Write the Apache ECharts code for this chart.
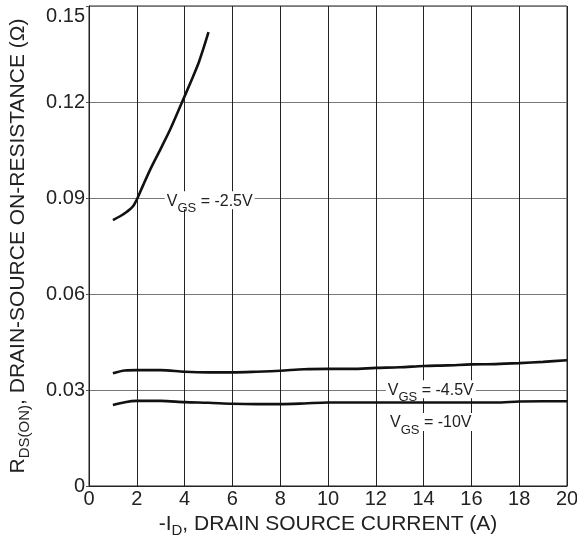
<!DOCTYPE html>
<html><head><meta charset="utf-8">
<script src="https://cdn.jsdelivr.net/npm/echarts@6/dist/echarts.min.js"></script>
<style>html,body{margin:0;padding:0;background:#fff}#c{width:577px;height:537px}</style>
</head><body><div id="c"></div>
<script>
// Data
const vgs25 = [[1.0,0.0831],[1.3,0.0843],[1.6,0.0858],[1.85,0.0875],[2.05,0.0903],[2.27,0.0941],[2.6,0.0995],[3.04,0.1060],[3.4,0.1115],[3.81,0.1185],[4.23,0.1258],[4.6,0.1325],[5.0,0.1418]];
const vgs45 = [[1,0.0352],[1.5,0.0361],[2,0.0362],[3,0.0362],[4,0.0357],[5,0.0355],[6,0.0355],[7,0.0357],[8,0.0360],[9,0.0365],[10,0.0366],[11,0.0366],[12,0.0369],[13,0.0371],[14,0.0375],[15,0.0377],[16,0.0380],[17,0.0381],[18,0.0384],[19,0.0388],[20,0.0393]];
const vgs10 = [[1,0.0253],[1.5,0.0262],[2,0.0266],[3,0.0266],[4,0.0262],[5,0.0260],[6,0.0257],[7,0.0256],[8,0.0256],[9,0.0258],[10,0.0261],[11,0.0261],[12,0.0261],[13,0.0261],[14,0.0261],[15,0.0261],[16,0.0261],[17,0.0261],[18,0.0264],[19,0.0265],[20,0.0265]];
const curveLabels = [
  {text:'-2.5V', coord:[5.05,0.0893]},
  {text:'-4.5V', coord:[14.3,0.0302]},
  {text:'-10V',  coord:[14.3,0.0200]}
];
const xTicks = {min:0, max:20, interval:2};
const yTicks = {min:0, max:0.15, interval:0.03};

const FONT = '"Liberation Sans", Arial, sans-serif';
const chart = echarts.init(document.getElementById('c'), null, {renderer:'canvas'});
function labelPoint(l){
  return {
    coord: l.coord, symbol:'rect', symbolSize:0,
    label:{show:true, position:'inside', formatter:'{n|V}{s|GS}{n| = '+l.text+'}',
      backgroundColor:'#fff', padding:[0,2,0,2],
      rich:{n:{fontSize:16, fontFamily:FONT, color:'#222', verticalAlign:'bottom', lineHeight:18},
            s:{fontSize:13, fontFamily:FONT, color:'#222', verticalAlign:'bottom', lineHeight:10, padding:[0,0,-6,0]}}}
  };
}
const lineStyle = {color:'#111', width:2.6};
chart.setOption({
  animation:false,
  backgroundColor:'#fff',
  grid:{left:89, right:10, top:6, bottom:51, show:true, borderColor:'#222', borderWidth:1, containLabel:false, outerBoundsMode:'none'},
  xAxis:{type:'value', min:xTicks.min, max:xTicks.max, interval:xTicks.interval,
    axisLine:{lineStyle:{color:'#222'}}, axisTick:{show:false},
    splitLine:{show:true, lineStyle:{color:'#222', width:1}},
    axisLabel:{fontSize:20, fontFamily:FONT, color:'#222', margin:3},
    name:'{n|-I}{s|D}{n|, DRAIN SOURCE CURRENT (A)}', nameLocation:'middle', nameGap:28,
    nameTextStyle:{rich:{n:{fontSize:21, fontFamily:FONT, color:'#222'}, s:{fontSize:15, fontFamily:FONT, color:'#222', padding:[0,0,-12,0]}}}
  },
  yAxis:{type:'value', min:yTicks.min, max:yTicks.max, interval:yTicks.interval,
    axisLine:{show:true, lineStyle:{color:'#222'}}, axisTick:{show:true, length:3, lineStyle:{color:'#555'}},
    splitLine:{show:true, lineStyle:{color:'#777', width:1.2}},
    axisLabel:{fontSize:20, fontFamily:FONT, color:'#222', margin:4,
      formatter:v=> v===0?'0':(v>=yTicks.max-1e-9?'{t|'+v.toFixed(2)+'}':v.toFixed(2)),
      rich:{t:{fontSize:20, fontFamily:FONT, color:'#222', padding:[20,0,0,0]}}},
    name:'{n|R}{s|DS(ON)}{n|, DRAIN-SOURCE ON-RESISTANCE (Ω)}', nameLocation:'middle', nameGap:60, nameRotate:90,
    nameTextStyle:{rich:{n:{fontSize:21, fontFamily:FONT, color:'#222'}, s:{fontSize:15, fontFamily:FONT, color:'#222', padding:[0,0,-12,0]}}}
  },
  series:[
    {type:'line', data:vgs25, smooth:0.3, symbol:'none', lineStyle, markPoint:{silent:true, data:[labelPoint(curveLabels[0])]}},
    {type:'line', data:vgs45, smooth:0.3, symbol:'none', lineStyle, markPoint:{silent:true, data:[labelPoint(curveLabels[1])]}},
    {type:'line', data:vgs10, smooth:0.3, symbol:'none', lineStyle, markPoint:{silent:true, data:[labelPoint(curveLabels[2])]}}
  ]
});
</script></body></html>
